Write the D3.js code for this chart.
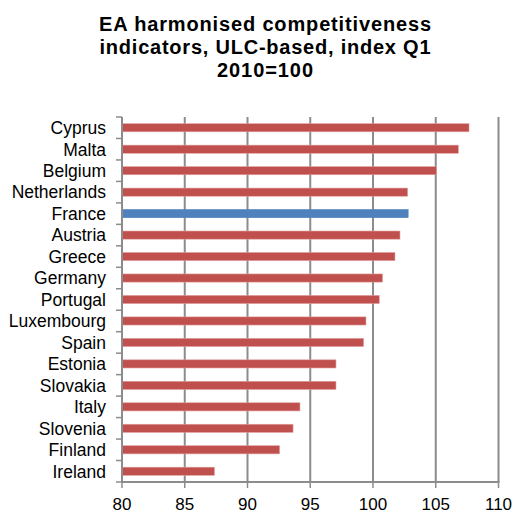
<!DOCTYPE html>
<html>
<head>
<meta charset="utf-8">
<script src="https://cdn.jsdelivr.net/npm/d3@7"></script>
<style>
  body { margin: 0; background: #fff; }
  svg { font-family: "Liberation Sans", Arial, sans-serif; }
</style>
</head>
<body>
<div id="chart"></div>
<script>
// Data
const countries = ["Cyprus", "Malta", "Belgium", "Netherlands", "France", "Austria", "Greece",
  "Germany", "Portugal", "Luxembourg", "Spain", "Estonia", "Slovakia", "Italy", "Slovenia",
  "Finland", "Ireland"];
const values = [107.65, 106.8, 105.05, 102.76, 102.8, 102.15, 101.75, 100.76, 100.5, 99.44,
  99.25, 97.05, 97.05, 94.18, 93.63, 92.56, 87.36];
const highlight = "France";
const xTicks = [80, 85, 90, 95, 100, 105, 110];
const titleLines = ["EA harmonised competitiveness", "indicators, ULC-based, index Q1", "2010=100"];
const titleWidths = [332, 331, 96];

const width = 516;
const height = 514;
const margin = { top: 117, right: 18, bottom: 32, left: 122 };

const svg = d3.select("#chart").append("svg")
    .attr("width", width)
    .attr("height", height);

// Title
svg.append("g").selectAll("text")
    .data(titleLines)
    .enter().append("text")
    .attr("x", 265)
    .attr("y", (d, i) => 31 + i * 22.8)
    .attr("text-anchor", "middle")
    .attr("font-size", 20)
    .attr("font-weight", "bold")
    .attr("fill", "#000")
    .attr("textLength", (d, i) => titleWidths[i])
    .attr("lengthAdjust", "spacing")
    .text(d => d);

const x = d3.scaleLinear()
    .domain([80, 110])
    .range([margin.left, width - margin.right + 0.5]);

const y = d3.scaleBand()
    .domain(countries)
    .range([margin.top, height - margin.bottom])
    .paddingInner(0.62)
    .paddingOuter(0.31);

const plotBottom = height - margin.bottom;

// Gridlines
svg.append("g").selectAll("line")
    .data(xTicks.slice(1))
    .enter().append("line")
    .attr("x1", d => x(d))
    .attr("x2", d => x(d))
    .attr("y1", margin.top)
    .attr("y2", plotBottom)
    .attr("stroke", "#8c8c8c")
    .attr("stroke-width", 2);

// Bars
svg.append("g").selectAll("rect")
    .data(countries)
    .enter().append("rect")
    .attr("x", x(80))
    .attr("y", d => y(d))
    .attr("width", (d, i) => x(values[i]) - x(80))
    .attr("height", y.bandwidth())
    .attr("fill", d => d === highlight ? "#4f81bd" : "#c0504d")
    .attr("stroke", d => d === highlight ? "#4f81bd" : "#e0a09e")
    .attr("stroke-width", 0.6);

// Left axis
const yAxis = svg.append("g")
    .attr("transform", `translate(${margin.left},0)`);
yAxis.append("line")
    .attr("x1", 0).attr("x2", 0)
    .attr("y1", margin.top).attr("y2", plotBottom)
    .attr("stroke", "#8c8c8c").attr("stroke-width", 2);
const bounds = d3.range(countries.length + 1).map(i => margin.top + i * y.step());
yAxis.selectAll(".tick")
    .data(bounds)
    .enter().append("line")
    .attr("x1", -6).attr("x2", 0)
    .attr("y1", d => d).attr("y2", d => d)
    .attr("stroke", "#8c8c8c").attr("stroke-width", 1.5);
yAxis.selectAll(".label")
    .data(countries)
    .enter().append("text")
    .attr("x", -16)
    .attr("y", d => y(d) + y.bandwidth() / 2)
    .attr("dy", "0.36em")
    .attr("text-anchor", "end")
    .attr("font-size", 17.5)
    .attr("fill", "#000")
    .text(d => d);

// Bottom axis
const xAxis = svg.append("g");
xAxis.append("line")
    .attr("x1", x(80) - 1).attr("x2", x(110) + 1)
    .attr("y1", plotBottom).attr("y2", plotBottom)
    .attr("stroke", "#8c8c8c").attr("stroke-width", 2);
xAxis.selectAll(".tick")
    .data(xTicks)
    .enter().append("line")
    .attr("x1", d => x(d)).attr("x2", d => x(d))
    .attr("y1", plotBottom).attr("y2", plotBottom + 6)
    .attr("stroke", "#8c8c8c").attr("stroke-width", 1.5);
xAxis.selectAll(".label")
    .data(xTicks)
    .enter().append("text")
    .attr("x", d => x(d))
    .attr("y", plotBottom + 28)
    .attr("text-anchor", "middle")
    .attr("font-size", 17)
    .attr("fill", "#000")
    .text(d => d);
</script>
</body>
</html>
